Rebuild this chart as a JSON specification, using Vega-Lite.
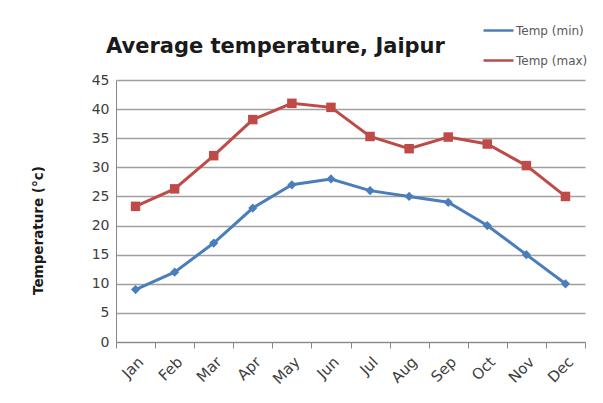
{
  "$schema": "https://vega.github.io/schema/vega-lite/v6.json",
  "width": 469,
  "height": 262,
  "autosize": {"type": "none"},
  "padding": {"left": 116, "top": 80, "right": 18, "bottom": 61},
  "background": "white",
  "title": {
    "text": "Average temperature, Jaipur",
    "anchor": "start",
    "dx": 75,
    "offset": -43,
    "font": "DejaVu Sans",
    "fontSize": 21,
    "fontWeight": "bold",
    "color": "#1a1a1a"
  },
  "data": {
    "values": [
      {"month": "Jan", "series": "Temp (min)", "temp": 9},
      {"month": "Feb", "series": "Temp (min)", "temp": 12},
      {"month": "Mar", "series": "Temp (min)", "temp": 17},
      {"month": "Apr", "series": "Temp (min)", "temp": 23},
      {"month": "May", "series": "Temp (min)", "temp": 27},
      {"month": "Jun", "series": "Temp (min)", "temp": 28},
      {"month": "Jul", "series": "Temp (min)", "temp": 26},
      {"month": "Aug", "series": "Temp (min)", "temp": 25},
      {"month": "Sep", "series": "Temp (min)", "temp": 24},
      {"month": "Oct", "series": "Temp (min)", "temp": 20},
      {"month": "Nov", "series": "Temp (min)", "temp": 15},
      {"month": "Dec", "series": "Temp (min)", "temp": 10},
      {"month": "Jan", "series": "Temp (max)", "temp": 23.3},
      {"month": "Feb", "series": "Temp (max)", "temp": 26.3},
      {"month": "Mar", "series": "Temp (max)", "temp": 32},
      {"month": "Apr", "series": "Temp (max)", "temp": 38.2},
      {"month": "May", "series": "Temp (max)", "temp": 41},
      {"month": "Jun", "series": "Temp (max)", "temp": 40.3},
      {"month": "Jul", "series": "Temp (max)", "temp": 35.3},
      {"month": "Aug", "series": "Temp (max)", "temp": 33.2},
      {"month": "Sep", "series": "Temp (max)", "temp": 35.2},
      {"month": "Oct", "series": "Temp (max)", "temp": 34},
      {"month": "Nov", "series": "Temp (max)", "temp": 30.3},
      {"month": "Dec", "series": "Temp (max)", "temp": 25}
    ]
  },
  "encoding": {
    "x": {
      "field": "month",
      "type": "nominal",
      "sort": ["Jan","Feb","Mar","Apr","May","Jun","Jul","Aug","Sep","Oct","Nov","Dec"],
      "scale": {"type": "band", "paddingInner": 0, "paddingOuter": 0},
      "axis": {
        "title": null,
        "labelAngle": -45,
        "labelFont": "DejaVu Sans",
        "labelFontSize": 15,
        "labelColor": "#404040",
        "labelPadding": 6,
        "tickBand": "extent",
        "tickSize": 6,
        "tickColor": "#888888",
        "domainColor": "#888888",
        "grid": false
      }
    },
    "y": {
      "field": "temp",
      "type": "quantitative",
      "scale": {"domain": [0, 45], "nice": false, "zero": true},
      "axis": {
        "title": "Temperature (°c)",
        "titleFont": "DejaVu Sans",
        "titleFontSize": 13.5,
        "titleFontWeight": "bold",
        "titleColor": "#1a1a1a",
        "titleX": -78,
        "titleY": 150,
        "titleBaseline": "middle",
        "titleAlign": "center",
        "values": [0,5,10,15,20,25,30,35,40,45],
        "labelFont": "DejaVu Sans",
        "labelFontSize": 14,
        "labelColor": "#404040",
        "labelPadding": 7,
        "ticks": false,
        "domainColor": "#888888",
        "grid": true,
        "gridColor": "#a0a0a0",
        "gridWidth": 1.5
      }
    },
    "color": {
      "field": "series",
      "type": "nominal",
      "scale": {"domain": ["Temp (min)", "Temp (max)"], "range": ["#4a7ebb", "#be4b48"]},
      "legend": {
        "title": null,
        "orient": "none",
        "legendX": 366,
        "legendY": -66,
        "symbolType": "stroke",
        "symbolSize": 900,
        "symbolStrokeWidth": 2.5,
        "labelFont": "DejaVu Sans",
        "labelFontSize": 12,
        "labelColor": "#595959",
        "labelOffset": 1,
        "rowPadding": 7
      }
    }
  },
  "layer": [
    {
      "mark": {"type": "line", "strokeWidth": 3}
    },
    {
      "transform": [{"filter": "datum.series === 'Temp (min)'"}],
      "mark": {"type": "point", "filled": true, "opacity": 1, "size": 85, "shape": "diamond"}
    },
    {
      "transform": [{"filter": "datum.series === 'Temp (max)'"}],
      "mark": {"type": "point", "filled": true, "opacity": 1, "size": 90, "shape": "square"}
    }
  ],
  "config": {
    "view": {"stroke": null}
  }
}
